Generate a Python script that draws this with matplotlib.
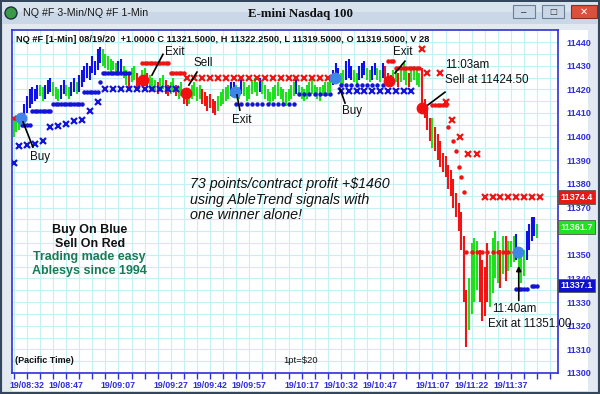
import numpy as np
import matplotlib.pyplot as plt
from matplotlib.patches import Rectangle, Ellipse
from matplotlib.transforms import blended_transform_factory

plt.rcParams['font.family'] = ['Liberation Sans', 'DejaVu Sans']

W, H = 600, 394

# 1-min bars, minutes counted from 08:32 (first bar 08:27)
bar_lo = [11400, 11402, 11403, 11404, 11406, 11410, 11412, 11414, 11415, 11416,
          11417, 11415, 11416, 11418, 11419, 11417, 11416, 11415, 11416, 11418,
          11417, 11416, 11417, 11419, 11418, 11419, 11421, 11423, 11425, 11424,
          11427, 11426, 11428, 11431, 11430, 11429, 11428, 11427, 11428, 11426,
          11427, 11427, 11425, 11422, 11421, 11423, 11424, 11421, 11420, 11422,
          11423, 11421, 11420, 11419, 11419, 11418, 11419, 11420, 11418, 11417,
          11418, 11419, 11417, 11416, 11417, 11414, 11413, 11414, 11416, 11417,
          11415, 11416, 11414, 11413, 11411, 11412, 11410, 11409, 11411, 11413,
          11414, 11415, 11416, 11417, 11418, 11417, 11416, 11418, 11417, 11415,
          11416, 11418, 11419, 11417, 11419, 11418, 11416, 11415, 11414, 11415,
          11416, 11417, 11416, 11414, 11413, 11415, 11416, 11417, 11418, 11417,
          11416, 11415, 11416, 11417, 11418, 11417, 11416, 11415, 11417, 11418,
          11417, 11419, 11422, 11424, 11423, 11421, 11422, 11424, 11425, 11424,
          11423, 11422, 11424, 11425, 11426, 11424, 11423, 11424, 11426, 11424,
          11423, 11425, 11424, 11422, 11421, 11422, 11423, 11421, 11423, 11424,
          11422, 11421, 11423, 11424, 11422, 11421, 11414, 11408, 11403, 11398,
          11395, 11394, 11390, 11387, 11385, 11383, 11378, 11375, 11370, 11366,
          11360, 11352, 11330, 11311, 11318, 11325, 11330, 11335, 11330, 11322,
          11324, 11330, 11328, 11334, 11340, 11338, 11336, 11342, 11339, 11343,
          11345, 11347, 11348, 11344, 11338, 11341, 11348, 11352, 11356, 11358,
          11357]
bar_hi = [11407, 11409, 11408, 11410, 11414, 11417, 11420, 11421, 11420, 11422,
          11422, 11421, 11422, 11424, 11425, 11423, 11421, 11420, 11422, 11424,
          11422, 11421, 11423, 11425, 11423, 11426, 11428, 11430, 11431, 11430,
          11434, 11432, 11437, 11438, 11437, 11435, 11434, 11433, 11432, 11431,
          11432, 11433, 11430, 11428, 11427, 11429, 11430, 11427, 11425, 11428,
          11429, 11427, 11426, 11425, 11424, 11423, 11425, 11426, 11424, 11422,
          11423, 11425, 11422, 11421, 11423, 11420, 11419, 11420, 11422, 11423,
          11421, 11422, 11420, 11419, 11417, 11418, 11416, 11415, 11417, 11419,
          11420, 11421, 11422, 11423, 11423, 11422, 11421, 11424, 11423, 11421,
          11422, 11424, 11425, 11423, 11425, 11424, 11422, 11420, 11419, 11421,
          11422, 11423, 11421, 11420, 11419, 11420, 11422, 11423, 11424, 11422,
          11421, 11420, 11422, 11423, 11424, 11422, 11421, 11421, 11422, 11423,
          11423, 11424, 11428, 11431, 11429, 11427, 11428, 11432, 11433, 11430,
          11428, 11427, 11430, 11431, 11432, 11429, 11428, 11430, 11431, 11429,
          11428, 11431, 11430, 11427, 11426, 11428, 11429, 11427, 11430, 11431,
          11428, 11427, 11429, 11430, 11428, 11427, 11429, 11416, 11412, 11408,
          11408, 11404, 11401, 11398, 11393, 11392, 11388, 11386, 11382, 11376,
          11372, 11368, 11358, 11335, 11340, 11355, 11357, 11356, 11352, 11348,
          11345, 11355, 11350, 11357, 11360, 11356, 11352, 11358, 11358, 11356,
          11356, 11358, 11359, 11352, 11350, 11352, 11360, 11363, 11366, 11366,
          11363]
bar_col = ("gggbbbbbbb" "ggbbbgggbb" "ggbbgbbbbb" "bbbbgggggg" "bbggrggrrg"
           "grgggrggrr" "ggrggrrggg" "ggrrrrrrgg" "gggbbggbgg" "ggggbggggg"
           "ggggggggbg" "gggggggggg" "ggbbbggbbb" "ggbbbggbbg" "gbrrrggrgg"
           "grggggrrrr" "grrrrrrrrr" "rrrrggggrr" "rrggggrgrg" "ggbgggbbbb" "g")
bar_start = -5

# AbleTrend stops (3-min X marks) and 1-min dots
bx_m = [-5, -3, 0, 3, 6, 9, 12, 15, 18, 21, 24, 27,
        30, 33, 36, 39, 42, 45, 48, 51, 54, 57,
        120, 123, 126, 129, 132, 135, 138, 141, 144, 147]
bx_v = [11389, 11396, 11396.5, 11397, 11398, 11404, 11404.5, 11405.5, 11406.5, 11407, 11411, 11414.5,
        11420, 11420, 11420, 11420, 11420, 11420, 11420, 11420, 11420, 11420,
        11419.5, 11419.5, 11419.5, 11419.5, 11419.5, 11419.5, 11419.5, 11419.5, 11419.5, 11419.5]
rx_m = [61, 64, 67, 70, 73, 76, 79, 82, 85, 88, 91, 94, 97, 100, 103, 106, 109, 112, 115,
        151, 153, 158, 160, 162.5, 165.5, 168.5, 172,
        175, 178, 181, 184, 187, 190, 193, 196]
rx_v = [11425] * 19 + [11437, 11427, 11427, 11414.5, 11407, 11400, 11392.5, 11392.5] + [11374.5] * 8
bd_m = [-2, -1, 0, 1,
        2, 3, 4, 5, 6, 7, 8, 9,
        10, 11, 12, 13, 14, 15, 16, 17, 18, 19, 20, 21,
        22, 23, 24, 25, 26, 27, 28,
        29, 30, 31, 32, 33, 34, 35, 36, 37, 38, 39,
        80, 82, 84, 86, 88, 90, 92, 94, 96, 98, 100, 102,
        104, 106, 108, 110, 112, 114, 116,
        120, 122, 124, 126, 128, 130, 132, 134, 136,
        187, 188, 189, 190, 191, 193, 194, 195]
bd_v = [11405] * 4 + [11411] * 8 + [11414] * 12 + [11419] * 6 + [11423] + [11427] * 11 + \
       [11414] * 12 + [11418] * 7 + [11422] * 9 + [11335.5] * 5 + [11337] * 3
rd_m = [-5, -4, -3,
        44, 45, 46, 47, 48, 49, 50, 51, 52, 53, 54,
        55, 56, 57, 58, 59, 60,
        138, 139, 140, 141, 142, 143, 144, 145, 146, 147, 148, 149, 150,
        155, 156, 157, 158, 159, 160,
        161, 163, 164, 165, 166, 167,
        168, 170, 172, 174, 176, 178, 180, 182, 184, 186, 188]
rd_v = [11408] * 3 + [11431] * 11 + [11427] * 6 + [11432] * 3 + [11429] * 10 + \
       [11413.5] * 6 + [11404, 11398, 11394, 11387, 11383, 11376.5] + [11351] * 11

# signal dots
sig_m = [-2.3, 44.3, 60.8, 79.5, 117.7, 138.4, 151, 187.7]
sig_v = [11408, 11424, 11418.5, 11419, 11425, 11423.5, 11412, 11351]
sig_c = ['#3d86e8', '#f01010', '#f01010', '#3d86e8', '#3d86e8', '#f01010', '#f01010', '#3d86e8']

tick_min = [0, 15, 35, 55, 70, 85, 105, 120, 135, 155, 170, 185]
tick_lab = ['19/08:32', '19/08:47', '19/09:07', '19/09:27', '19/09:42', '19/09:57',
            '19/10:17', '19/10:32', '19/10:47', '19/11:07', '19/11:22', '19/11:37']

last_labels = ['11374.4', '11361.7', '11337.1']
last_values = [11374.4, 11361.7, 11337.1]
last_colors = ['#e81818', '#22e022', '#1010d0']

COLS = {'g': '#1fe01f', 'b': '#1010e8', 'r': '#f01414'}
AXBLUE = '#2f2fd8'


def px_rect(fig, x, y, w, h, z=-5, **kw):
    r = Rectangle((x / W, 1 - (y + h) / H), w / W, h / H,
                  transform=fig.transFigure, zorder=z, **kw)
    fig.add_artist(r)


fig = plt.figure(figsize=(W / 100, H / 100), dpi=100)
fig.patch.set_facecolor('#e3e9f0')

# window frame
px_rect(fig, 0, 0, W, H, facecolor='none', edgecolor='#34465c', lw=3)
px_rect(fig, 2, 2, W - 4, 22, facecolor='#c9d7e6', edgecolor='none')
px_rect(fig, 2, 2, W - 4, 10, facecolor='#d8e3ee', edgecolor='none')
px_rect(fig, 12, 30, 588 - 12, 361, facecolor='white', edgecolor='none')
# title bar buttons
px_rect(fig, 513, 5, 22, 13, z=2, facecolor='#c8d6e6', edgecolor='#6c7f96', lw=0.8)
px_rect(fig, 542, 5, 22, 13, z=2, facecolor='#c8d6e6', edgecolor='#6c7f96', lw=0.8)
px_rect(fig, 571, 5, 26, 13, z=2, facecolor='#d9503c', edgecolor='#8a2c20', lw=0.8)
fig.text(524 / W, 1 - 12 / H, '–', ha='center', va='center', fontsize=7, color='#333333')
fig.text(553 / W, 1 - 11.5 / H, '□', ha='center', va='center', fontsize=6, color='#333333',
         family='DejaVu Sans')
fig.text(584 / W, 1 - 11.5 / H, '✕', ha='center', va='center', fontsize=7, color='white',
         family='DejaVu Sans', fontweight='bold')
fig.add_artist(Ellipse((11 / W, 1 - 13 / H), 12 / W, 12 / H, transform=fig.transFigure,
                       facecolor='#3a9a4a', edgecolor='#203040', lw=1))
fig.text(23 / W, 1 - 13 / H, 'NQ #F 3-Min/NQ #F 1-Min', ha='left', va='center',
         fontsize=7.7, color='#1a1a1a')
fig.text(300 / W, 1 - 14 / H, 'E-mini Nasdaq 100', ha='center', va='center',
         fontsize=9.3, fontweight='bold', family='Liberation Serif', color='#111111')

ax = fig.add_axes([12 / W, 1 - 373 / H, 546 / W, 343 / H])
ax.set_zorder(1)
ax.set_xlim(-5.7, 203)
ax.set_ylim(11300, 11445.1)
ax.set_facecolor('white')

for s in ax.spines.values():
    s.set_color(AXBLUE)
    s.set_linewidth(1.2)

ax.set_xticks(np.arange(-5, 205, 5))
ax.set_xticklabels([tick_lab[tick_min.index(t)] if t in tick_min else '' for t in range(-5, 205, 5)])
ytk = np.arange(11300, 11445, 10)
ax.set_yticks(ytk)
# the 11360 label sits under the green last-price box
ax.set_yticklabels(['' if v == 11360 else str(v) for v in ytk])
ax.set_yticks(np.arange(11305, 11445, 10), minor=True)
ax.yaxis.tick_right()
ax.tick_params(axis='x', colors=AXBLUE, length=4, width=1, pad=2, labelsize=6.4)
ax.tick_params(axis='y', which='both', length=0, pad=6, colors=AXBLUE, labelsize=6.5)
for lab in ax.get_xticklabels() + ax.get_yticklabels():
    lab.set_fontweight('bold')
ax.grid(True, which='both', color='#c4f0f6', lw=0.8)
ax.set_axisbelow(True)

# bars
bar_m = np.arange(len(bar_lo)) + bar_start
ax.vlines(bar_m, bar_lo, bar_hi, colors=[COLS[c] for c in bar_col], lw=1.5, zorder=3)

# trend stops
ax.plot(bx_m, bx_v, 'x', color='#1414d8', ms=5, mew=1.6, zorder=4)
ax.plot(rx_m, rx_v, 'x', color='#f01414', ms=5, mew=1.6, zorder=4)
ax.plot(bd_m, bd_v, 'o', color='#1414d8', ms=2.2, zorder=4)
ax.plot(rd_m, rd_v, 'o', color='#f01414', ms=2.2, zorder=4)

# signals
for m, v, c in zip(sig_m, sig_v, sig_c):
    ax.plot(m, v, 'o', color=c, ms=7.5, zorder=6)

# annotation lines
arrows = [((-1.5, 11406.2), (2.3, 11395.6)),
          ((47.8, 11426), (52, 11434.8)),
          ((61.9, 11421.8), (65, 11427.3)),
          ((80.3, 11417.6), (81.4, 11411.2)),
          ((119.6, 11420.5), (121.6, 11414.2)),
          ((140.7, 11426.9), (144.5, 11431.9)),
          ((153.3, 11413.4), (159.8, 11418.8))]
for (a, b) in arrows:
    ax.plot([a[0], b[0]], [a[1], b[1]], color='black', lw=1.2, zorder=7)
ax.annotate('', xy=(188, 11346.5), xytext=(188, 11329.5),
            arrowprops=dict(arrowstyle='-|>', color='black', lw=1.2, mutation_scale=7), zorder=7)

tk = dict(fontsize=8.4, color='#111111', zorder=8, va='center')
ax.text(1.1, 11391.3, 'Buy', **tk)
ax.text(52.8, 11435.9, 'Exit', **tk)
ax.text(63.5, 11431.1, 'Sell', **tk)
ax.text(78.4, 11407, 'Exit', **tk)
ax.text(120.4, 11410.8, 'Buy', **tk)
ax.text(140, 11435.9, 'Exit', **tk)
ax.text(159.8, 11430.3, '11:03am', **tk)
ax.text(159.8, 11423.9, 'Sell at 11424.50', **tk)
ax.text(177.8, 11327, '11:40am', **tk)
ax.text(176.2, 11320.7, 'Exit at 11351.00', clip_on=False, **tk)

it = dict(fontsize=10.3, style='italic', color='#111111', va='center', ha='left')
ax.text(62.3, 11380, '73 points/contract profit +$1460', **it)
ax.text(62.3, 11373.3, 'using AbleTrend signals with', **it)
ax.text(62.3, 11366.8, 'one winner alone!', **it)

bx = dict(fontsize=9, fontweight='bold', va='center', ha='center')
ax.text(24, 11360.5, 'Buy On Blue', color='#111111', **bx)
ax.text(24, 11354.6, 'Sell On Red', color='#111111', **bx)
ax.text(24, 11349.1, 'Trading made easy', color='#1a7a55', **bx)
ax.text(24, 11343.2, 'Ablesys since 1994', color='#1a7a55', **bx)

ax.text(0.005, 0.035, '(Pacific Time)', transform=ax.transAxes, fontsize=6.5,
        fontweight='bold', color='#111111', va='center')
ax.text(0.497, 0.035, '1pt=$20', transform=ax.transAxes, fontsize=6.8,
        color='#111111', va='center')
ax.text(0.008, 0.973, 'NQ #F [1-Min] 08/19/20  +1.0000 C 11321.5000, H 11322.2500, '
        'L 11319.5000, O 11319.5000, V 28', transform=ax.transAxes, fontsize=6.7,
        fontweight='bold', color='#111111', va='center')

# last-value boxes on the price scale
tr = blended_transform_factory(ax.transAxes, ax.transData)
for lab, v, c in zip(last_labels, last_values, last_colors):
    tc = 'white' if c != '#22e022' else '#e8ffe8'
    ax.text(1.005, v, lab, transform=tr, fontsize=6.5, fontweight='bold', color=tc,
            va='center', ha='left', clip_on=False, zorder=9,
            bbox=dict(boxstyle='square,pad=0.25', facecolor=c, edgecolor='#555555', lw=0.6))

fig.savefig('out.png', dpi=100, facecolor=fig.get_facecolor())
